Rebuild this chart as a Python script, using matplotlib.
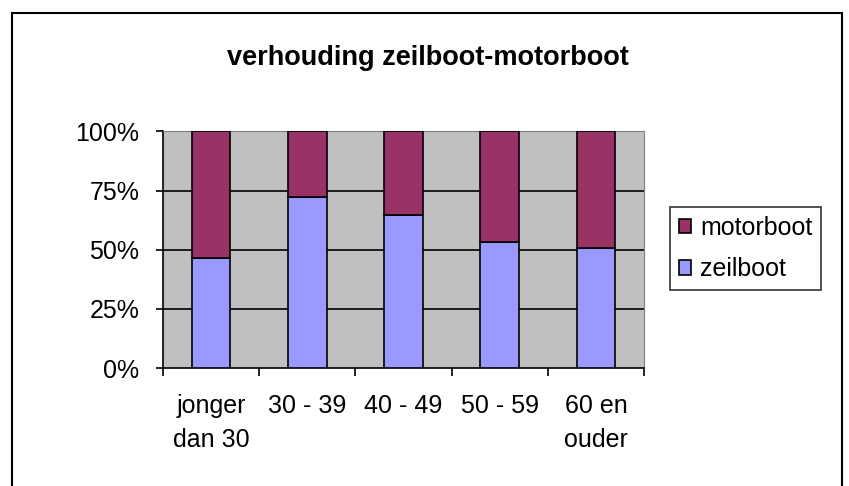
import matplotlib.pyplot as plt
from matplotlib.patches import Rectangle
import numpy as np

plt.rcParams['font.family'] = ['Liberation Sans', 'DejaVu Sans']

categories = ['jonger\ndan 30', '30 - 39', '40 - 49', '50 - 59', '60 en\nouder']
zeilboot = [46.6, 72.5, 64.5, 53.4, 50.8]
motorboot = [100 - z for z in zeilboot]
y_ticks = [0, 25, 50, 75, 100]
y_labels = ['0%', '25%', '50%', '75%', '100%']

fig = plt.figure(figsize=(8.49, 4.86), dpi=100)
# outer chart border
fig.patches.append(Rectangle((12 / 849, -0.05), 830 / 849, 1 - 13 / 486 + 0.05,
                             transform=fig.transFigure, fill=False,
                             edgecolor='black', linewidth=1.5))

ax = fig.add_axes([163 / 849, 1 - 368 / 486, 481 / 849, 236.5 / 486])
ax.set_facecolor('#C0C0C0')

x = np.arange(len(categories))
ax.bar(x, zeilboot, width=0.4, color='#9999FF', edgecolor='black',
       linewidth=1.2, label='zeilboot', zorder=3)
ax.bar(x, motorboot, width=0.4, bottom=zeilboot, color='#993366',
       edgecolor='black', linewidth=1.2, label='motorboot', zorder=3)

ax.set_xlim(-0.5, len(categories) - 0.5)
ax.set_ylim(0, 100)
for g in [25, 50, 75]:
    ax.axhline(g, color='black', linewidth=1.2, zorder=1)

ax.set_yticks(y_ticks)
ax.set_yticklabels(y_labels, fontsize=18)
ax.set_xticks(x)
ax.set_xticklabels(categories, fontsize=18, linespacing=1.5, va='top')
ax.set_xticks(np.arange(len(categories) + 1) - 0.5, minor=True)
ax.tick_params(axis='x', which='major', length=0, pad=19)
ax.tick_params(axis='x', which='minor', length=6, width=1.2, direction='out')
ax.tick_params(axis='y', length=5, width=1.2, direction='out', pad=12)

ax.spines['left'].set_linewidth(1.2)
ax.spines['bottom'].set_linewidth(1.2)
ax.spines['top'].set_color('#808080')
ax.spines['right'].set_color('#808080')

fig.text(428 / 849, 1 - 58 / 486, 'verhouding zeilboot-motorboot',
         ha='center', va='center', fontsize=19.5, fontweight='bold')

handles, labels = ax.get_legend_handles_labels()
leg = fig.legend(handles[::-1], labels[::-1], loc='center',
                 bbox_to_anchor=(745.5 / 849, 1 - 248.5 / 486),
                 fontsize=18, frameon=True, fancybox=False, edgecolor='black',
                 handlelength=0.5, handleheight=0.5, handletextpad=0.36,
                 labelspacing=0.7, borderpad=0.36)
leg.get_frame().set_linewidth(1.2)

fig.savefig('out.png', dpi=100)
